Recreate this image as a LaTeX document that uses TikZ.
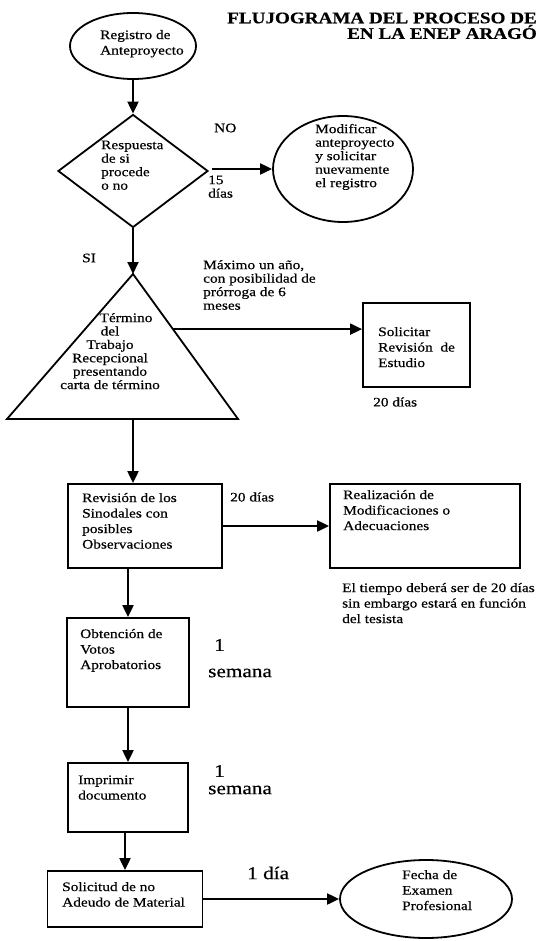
\documentclass[tikz,border=0pt]{standalone}
\usepackage{fontspec}
\setmainfont{Liberation Serif}[FakeStretch=1.18,FakeBold=0.5]
\usetikzlibrary{arrows.meta,shapes.geometric,calc}
\begin{document}
\begin{tikzpicture}[x=1pt,y=-1pt,
  shp/.style={draw, line width=1.8pt, inner sep=0pt},
  box/.style={shp, rectangle},
  oval/.style={shp, ellipse},
  arr/.style={line width=2pt, -{Triangle[length=12pt,width=11pt]}},
  lbl/.style={anchor=north west, inner sep=0pt, align=left, font=\fontsize{13}{13.5}\selectfont},
  lblw/.style={anchor=north west, inner sep=0pt, align=left, font=\fontsize{13}{15.5}\selectfont},
  tric/.style={anchor=north, inner sep=0pt, align=center, font=\fontsize{13}{13.4}\selectfont},
  one/.style={anchor=west, inner sep=0pt, font=\fontsize{13}{15}\selectfont},
  big/.style={anchor=west, inner sep=0pt, font=\fontsize{18}{20}\selectfont},
  ttl/.style={anchor=east, inner sep=0pt, font=\bfseries\fontsize{16.2}{18}\selectfont}]
\useasboundingbox (0,0) rectangle (536,941);
\fill[white] (0,0) rectangle (536,941);
\clip (0,0) rectangle (536,941);

% title
\node[ttl] (t1) at (537,18) {FLUJOGRAMA DEL PROCESO DE};
\node[ttl] (t2) at (537,32) {EN LA ENEP ARAGÓ};

% shapes
\node[oval, minimum width=126pt, minimum height=66pt] (e1) at (133,46) {};
\node[shp, diamond, minimum width=150pt, minimum height=113pt] (d1) at (133,171) {};
\node[oval, minimum width=140pt, minimum height=106pt] (e2) at (343,169) {};
\coordinate (triA) at (133,274);
\coordinate (triL) at (7,419);
\coordinate (triC) at (238,419);
\coordinate (triB) at (133,419);
\draw[line width=1.8pt, line join=miter] (triA) -- (triL) -- (triC) -- cycle;
\coordinate (triR) at ($(triA)!0.38!(triC)$);
\node[box, minimum width=107pt, minimum height=84pt] (s1) at (416.5,345) {};
\node[box, minimum width=154pt, minimum height=84pt] (r1) at (145,526) {};
\node[box, minimum width=190pt, minimum height=84pt] (m1) at (425,526) {};
\node[box, minimum width=122pt, minimum height=89pt] (v1) at (128,662.5) {};
\node[box, minimum width=120pt, minimum height=69pt] (i1) at (128,797.5) {};
\node[box, minimum width=155pt, minimum height=56pt] (a1) at (125,899) {};
\node[oval, minimum width=172pt, minimum height=78pt] (e3) at (426,899) {};

% texts in shapes
\node[lblw] (te1) at (100,28) {\strut Registro de\\Anteproyecto};
\node[lbl] (td1) at (101,139.5) {\strut Respuesta\\de si\\procede\\ o no};
\node[lbl] (te2) at (315,123.5) {\strut Modificar\\anteproyecto\\y solicitar\\nuevamente\\el registro};
\node[tric] (ttri) at (110,312.5) {\strut\hspace*{32pt}Término\\del\\Trabajo\\Recepcional\\presentando\\carta de término};
\node[lblw] (ts1) at (378,325) {\strut Solicitar\\Revisión\ \ de\\Estudio};
\node[lblw] (tr1) at (82,491) {\strut Revisión de los\\Sinodales con\\posibles\\Observaciones};
\node[lblw] (tm1) at (343,488) {\strut Realización de\\Modificaciones o\\Adecuaciones};
\node[lblw] (tv1) at (80,627) {\strut Obtención de\\Votos\\Aprobatorios};
\node[lblw] (ti1) at (78,773) {\strut Imprimir\\documento};
\node[lblw] (ta1) at (62,880) {\strut Solicitud de no\\Adeudo de Material};
\node[lblw] (te3) at (402,868) {\strut Fecha de\\Examen\\Profesional};

% other labels
\node[one] (lno) at (214,128) {NO};
\node[lbl] (l15) at (208,174.5) {\strut 15\\días};
\node[one] (lsi) at (82,258) {SI};
\node[lbl] (lmax) at (203,259.5) {\strut Máximo un año,\\con posibilidad de\\prórroga de 6\\meses};
\node[one] (l20a) at (373,402) {20 días};
\node[one] (l20b) at (230,497) {20 días};
\node[lblw] (lnote) at (342,581) {\strut El tiempo deberá ser de 20 días\\sin embargo estará en función\\del tesista};
\node[big] (l1a) at (214,645) {1};
\node[big] (lsa) at (208,673) {semana};
\node[big] (l1b) at (214,771) {1};
\node[big] (lsb) at (208,790) {semana};
\node[big] (l1d) at (247,873) {1 día};

% connectors
\draw[arr] (e1) -- (d1);
\draw[arr] ([xshift=3pt,yshift=2pt]d1.east) -- (e2.west);
\draw[arr] (d1) -- (triA);
\draw[arr] (triR) -- (triR -| s1.west);
\draw[arr] (triB) -- (triB |- r1.north);
\draw[arr] (r1) -- (m1);
\draw[arr] (v1.north |- r1.south) -- (v1.north);
\draw[arr] (v1) -- (i1);
\draw[arr] (a1.north |- i1.south) -- (a1.north);
\draw[arr] (a1) -- (e3);
\end{tikzpicture}
\end{document}
